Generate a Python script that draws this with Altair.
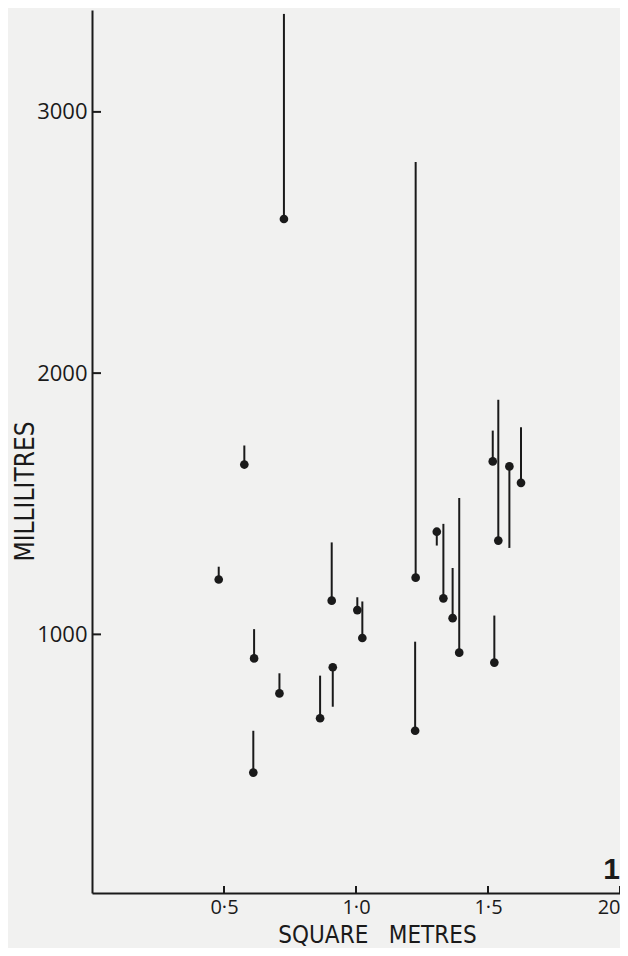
import altair as alt
import pandas as pd

# surface area (square metres), measured volume (ml) and the other end of each bar (ml)
area = [0.480, 0.577, 0.611, 0.614, 0.710, 0.727, 0.864, 0.908, 0.912, 1.005, 1.024,
        1.224, 1.226, 1.306, 1.331, 1.366, 1.391, 1.518, 1.524, 1.539, 1.581, 1.625]
volume = [1210, 1650, 471, 908, 774, 2590, 679, 1129, 874, 1093, 986,
          631, 1217, 1393, 1138, 1062, 930, 1662, 892, 1359, 1643, 1580]
bar_end = [1259, 1723, 631, 1020, 851, 3375, 842, 1352, 723, 1142, 1126,
           972, 2808, 1340, 1423, 1254, 1522, 1780, 1072, 1898, 1331, 1793]

x_ticks = [0.5, 1.0, 1.5, 2.0]
y_ticks = [1000, 2000, 3000]
x_tick_len = 27      # ml, inward tick length on the x axis
y_tick_len = 0.034   # m², inward tick length on the y axis

fig_label = ["1"]
fig_label_x = [2.0]
fig_label_y = [62]

df = pd.DataFrame({"area": area, "volume": volume, "end": bar_end})
xt = pd.DataFrame({"x": x_ticks, "y0": [10] * len(x_ticks), "y1": [10 + x_tick_len] * len(x_ticks)})
yt = pd.DataFrame({"y": y_ticks, "x0": [0.0] * len(y_ticks), "x1": [y_tick_len] * len(y_ticks)})
lab = pd.DataFrame({"t": fig_label, "x": fig_label_x, "y": fig_label_y})

TFONT = "DejaVu Sans Condensed, Liberation Sans Narrow, Open Sans, sans-serif"
LFONT = "Open Sans, DejaVu Sans, sans-serif"
INK = "#1a1a1a"

label_expr = "datum.value == 0.5 ? '0·5' : datum.value == 1 ? '1·0' : datum.value == 1.5 ? '1·5' : '20'"

xscale = alt.Scale(domain=[0, 2.0], nice=False, zero=False)
yscale = alt.Scale(domain=[10, 3390], nice=False, zero=False)

xaxis = alt.Axis(values=x_ticks, labelExpr=label_expr, ticks=False, tickSize=0, grid=False,
                 domainColor=INK, domainWidth=2, labelFont=LFONT, labelFontSize=20,
                 labelColor=INK, labelPadding=4, labelFlush=True,
                 title="SQUARE\u00a0\u00a0\u00a0METRES", titleFont=TFONT, titleFontSize=24,
                 titleFontWeight="normal", titleColor=INK, titleX=285, titleY=54,
                 titleBaseline="bottom", titleAlign="center")
yaxis = alt.Axis(values=y_ticks, format="d", ticks=False, tickSize=0, grid=False,
                 domainColor=INK, domainWidth=2,
                 labelFont=LFONT, labelFontSize=22, labelColor=INK, labelPadding=5,
                 labelFlush=False,
                 title="MILLILITRES", titleFont=TFONT, titleFontSize=26, titleFontWeight="normal",
                 titleColor=INK, titleAngle=270, titleX=-67, titleY=481,
                 titleAlign="center", titleBaseline="middle")

base = alt.Chart(df)

bars = base.mark_rule(color=INK, strokeWidth=2).encode(
    x=alt.X("area:Q", scale=xscale, axis=xaxis),
    y=alt.Y("volume:Q", scale=yscale, axis=yaxis),
    y2="end:Q",
)
dots = base.mark_point(filled=True, color=INK, size=75, opacity=1, shape="circle").encode(
    x=alt.X("area:Q", scale=xscale),
    y=alt.Y("volume:Q", scale=yscale),
)
xticks = alt.Chart(xt).mark_rule(color=INK, strokeWidth=2).encode(
    x=alt.X("x:Q", scale=xscale), y=alt.Y("y0:Q", scale=yscale), y2="y1:Q")
yticks = alt.Chart(yt).mark_rule(color=INK, strokeWidth=2).encode(
    y=alt.Y("y:Q", scale=yscale), x=alt.X("x0:Q", scale=xscale), x2="x1:Q")
figlab = alt.Chart(lab).mark_text(font="Liberation Sans, DejaVu Sans, sans-serif", fontSize=30,
                                  fontWeight="bold", color=INK, align="right",
                                  baseline="alphabetic").encode(
    x=alt.X("x:Q", scale=xscale), y=alt.Y("y:Q", scale=yscale), text="t:N")

chart = alt.layer(bars, dots, xticks, yticks, figlab).properties(
    width=528, height=883,
    autosize=alt.AutoSizeParams(type="none"),
    padding={"left": 84, "top": 2, "right": 0, "bottom": 55},
    background="#f1f1f0",
).configure_view(stroke=None)

chart.save("out.html", embed_options={"renderer": "svg", "actions": False})
